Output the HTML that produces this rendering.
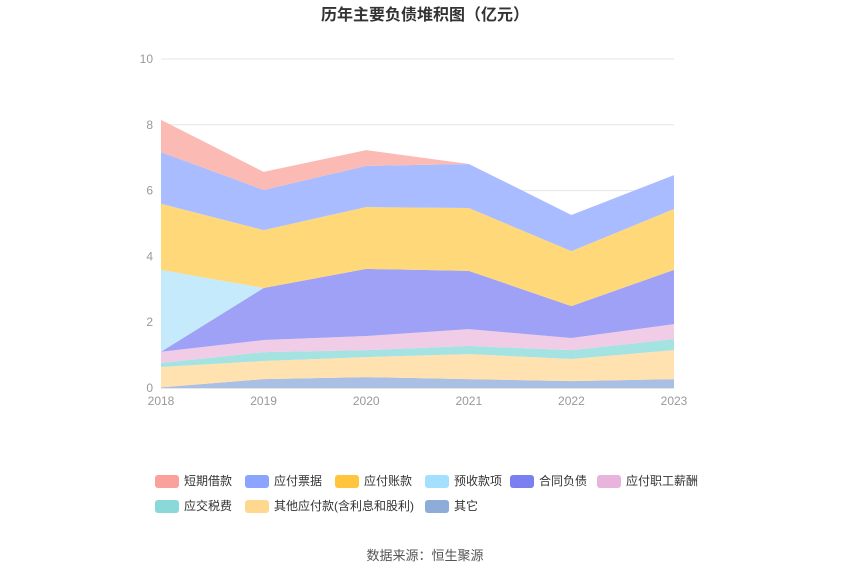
<!DOCTYPE html>
<html><head><meta charset="utf-8"><style>
body{margin:0;background:#fff;font-family:"Liberation Sans","Noto Sans CJK SC",sans-serif;}
svg text{font-family:"Liberation Sans","Noto Sans CJK SC",sans-serif;}
</style></head><body>
<svg width="850" height="575" id="c">
<text x="425" y="20" text-anchor="middle" font-size="16" font-weight="bold" fill="#333">历年主要负债堆积图（亿元）</text>
<g id="grid"></g><g id="areas"></g><g id="axes"></g><g id="legend"></g>
<text x="425" y="560" text-anchor="middle" font-size="13" fill="#555">数据来源：恒生聚源</text>
</svg>
<script>
const years=["2018","2019","2020","2021","2022","2023"];
const yTicks=[0,2,4,6,8,10];
const seriesNames=["其它","其他应付款(含利息和股利)","应交税费","应付职工薪酬","合同负债","预收款项","应付账款","应付票据","短期借款"];
const qita=[0.02,0.27,0.33,0.27,0.21,0.27];
const qitaYingfu=[0.62,0.55,0.61,0.76,0.67,0.88];
const shuifei=[0.12,0.27,0.21,0.25,0.27,0.34];
const zhigong=[0.34,0.37,0.43,0.51,0.37,0.45];
const hetong=[0,1.58,2.04,1.77,0.97,1.65];
const yushou=[2.49,0,0,0,0,0];
const zhangkuan=[2.01,1.76,1.88,1.91,1.67,1.85];
const piaoju=[1.57,1.22,1.25,1.34,1.10,1.03];
const jiekuan=[0.98,0.55,0.48,0,0,0];
const values=[qita,qitaYingfu,shuifei,zhigong,hetong,yushou,zhangkuan,piaoju,jiekuan];
const colors=["#a9bfe3","#ffe2b0","#a5e3e3","#f0cce6","#9ea1f5","#c4eafc","#ffd87a","#a9bcff","#fbbab3"];
const legendColors=["#8eacd8","#ffd88f","#8ad8d8","#e9b4dc","#7b7ff0","#a3e0ff","#ffc53d","#8aa4ff","#f9a19a"];
const ns="http://www.w3.org/2000/svg";
const x0=161,x1=674,yb=388,yt=59;
const X=i=>x0+(x1-x0)*i/(years.length-1);
const Y=v=>yb-(yb-yt)*v/10;
function mk(t,a,p){const e=document.createElementNS(ns,t);for(const k in a)e.setAttribute(k,a[k]);document.getElementById(p).appendChild(e);return e;}
yTicks.forEach(t=>{
 const l=mk("line",{x1:x0,x2:x1,y1:Y(t),y2:Y(t),stroke:t===0?"#ccc":"#e6e6e6"},"grid");
 
 
 const tx=mk("text",{x:153,y:Y(t)+4,"text-anchor":"end","font-size":12,fill:"#999"},"axes");tx.textContent=t;
 
 
});
years.forEach((y,i)=>{
 const tx=mk("text",{x:X(i),y:405,"text-anchor":"middle","font-size":12,fill:"#999"},"axes");tx.textContent=y;
 
 
});
let base=years.map(()=>0);
values.forEach((s,k)=>{
 const top=base.map((b,i)=>b+s[i]);
 let d="M"+top.map((v,i)=>X(i)+","+Y(v)).join(" L");
 for(let i=years.length-1;i>=0;i--)d+=" L"+X(i)+","+Y(base[i]);
 const p=mk("path",{d:d+"Z",fill:colors[k],stroke:"none"},"areas");
 
 
 base=top;
});
const order=[8,7,6,5,4,3,2,1,0];
const pos=[[155,481],[245,481],[335,481],[425,481],[510,481],[597,481],[155,506],[245,506],[425,506]];
order.forEach((k,j)=>{
 const [lx,ly]=pos[j];
 const r=mk("rect",{x:lx,y:ly-6,width:24,height:13,rx:3,fill:legendColors[k]},"legend");
 
 
 const t=mk("text",{x:lx+29,y:ly+4,"font-size":12,fill:"#333"},"legend");t.textContent=seriesNames[k];
 
 
});
</script>
</body></html>
